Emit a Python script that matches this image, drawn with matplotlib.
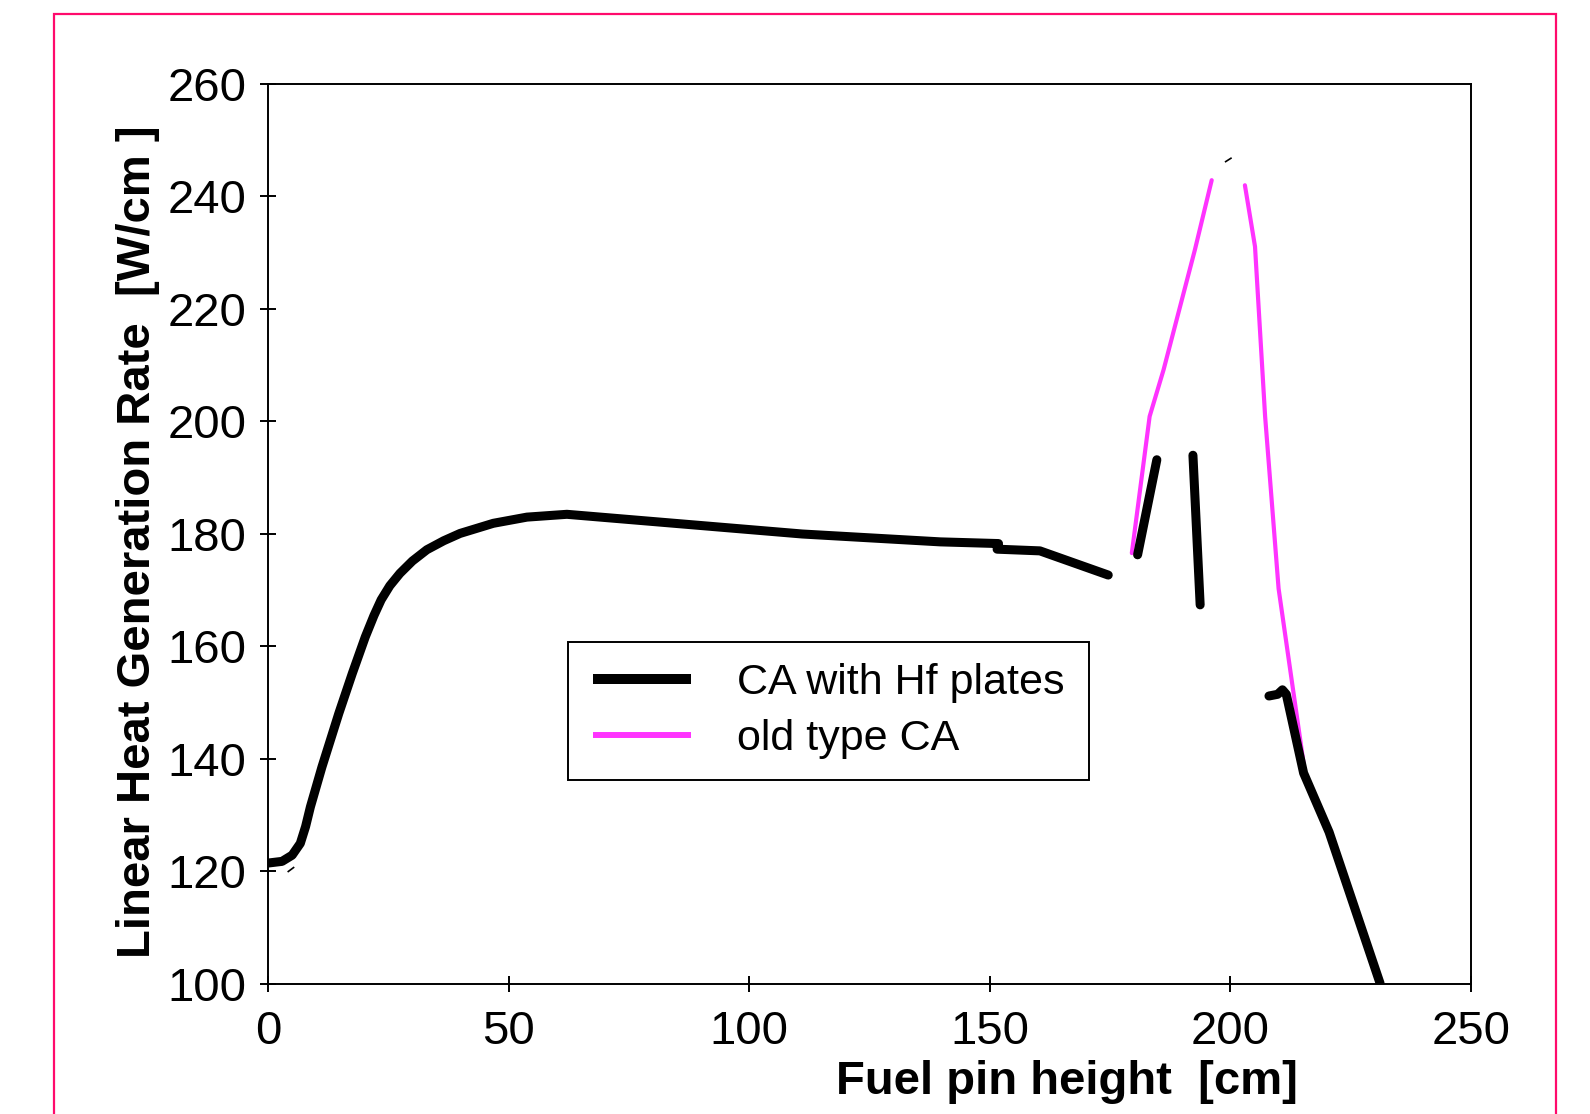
import numpy as np
import matplotlib
matplotlib.use("Agg")
from matplotlib import pyplot as plt
from matplotlib.lines import Line2D
from matplotlib.patches import Rectangle

plt.rcParams['font.family'] = ['Liberation Sans', 'DejaVu Sans']

# CA with Hf plates: several separate pieces of the curve
hf_x1 = [0.0, 2.9, 5.0, 6.7, 7.8, 8.8, 11.2, 14.7, 17.5, 20.2, 22.0, 23.5, 25.3, 27.4,
         30.0, 33.0, 36.5, 39.9, 46.8, 53.8, 62.1, 111.0, 139.7, 151.8, 151.5, 160.4, 174.6]
hf_y1 = [121.5, 121.8, 122.9, 125.0, 128.0, 131.5, 138.6, 148.1, 155.2, 161.7, 165.5,
         168.3, 170.8, 173.0, 175.2, 177.2, 178.8, 180.1, 181.9, 183.0, 183.5, 180.0,
         178.6, 178.3, 177.3, 177.0, 172.7]
hf_x2 = [180.7, 184.7]
hf_y2 = [176.3, 193.2]
hf_x3 = [192.2, 193.7]
hf_y3 = [194.0, 167.4]
hf_x4 = [208.0, 209.8, 210.8, 211.6, 215.2, 220.5, 231.1]
hf_y4 = [151.2, 151.5, 152.3, 151.5, 137.5, 127.0, 100.1]
# two stray small strokes in the original
dash_x1 = [199.0, 200.1]
dash_y1 = [246.2, 246.8]
dash_x2 = [4.2, 5.3]
dash_y2 = [120.0, 120.7]

# old type CA
old_x1 = [179.5, 183.2, 186.1, 192.6, 196.1]
old_y1 = [176.6, 200.9, 209.2, 230.5, 242.9]
old_x2 = [203.0, 205.1, 207.2, 210.0, 215.2]
old_y2 = [242.0, 231.1, 200.9, 170.3, 139.2]

x_ticks = [0, 50, 100, 150, 200, 250]
y_ticks = [100, 120, 140, 160, 180, 200, 220, 240, 260]

black = '#000000'
pink = '#FF33FF'

fig = plt.figure(figsize=(15.9, 11.14), dpi=100)
ax = fig.add_axes([0.1686, 0.1167, 0.7566, 0.8079])

for xs, ys in [(old_x1, old_y1), (old_x2, old_y2)]:
    ax.plot(xs, ys, color=pink, lw=3.0, solid_capstyle='round', zorder=2)
for xs, ys in [(hf_x1, hf_y1), (hf_x2, hf_y2), (hf_x3, hf_y3), (hf_x4, hf_y4)]:
    ax.plot(xs, ys, color=black, lw=6.5, solid_capstyle='round',
            solid_joinstyle='round', zorder=3)
for xs, ys in [(dash_x1, dash_y1), (dash_x2, dash_y2)]:
    ax.plot(xs, ys, color=black, lw=1.2, zorder=3)

ax.set_xlim(0, 250)
ax.set_ylim(100, 260)
ax.set_xticks(x_ticks)
ax.set_yticks(y_ticks)
ax.tick_params(axis='both', direction='inout', length=11, width=1.4, labelsize=34)
ax.tick_params(axis='x', pad=13)
ax.tick_params(axis='y', pad=10)
for sp in ax.spines.values():
    sp.set_linewidth(1.4)

ax.set_xlabel('Fuel pin height  [cm]', fontsize=34, fontweight='bold')
ax.xaxis.set_label_coords(0.664, -0.085)
ax.set_ylabel('Linear Heat Generation Rate  [W/cm ]', fontsize=34, fontweight='bold')
ax.yaxis.set_label_coords(-0.09, 0.491)

# legend without its own frame; the box is drawn separately
handles = [Line2D([], [], color=black, lw=7.2, solid_capstyle='butt'),
           Line2D([], [], color=pink, lw=4.3, solid_capstyle='butt')]
leg = ax.legend(handles, ['CA with Hf plates', 'old type CA'], loc='upper left',
                bbox_to_anchor=(0.2702, 0.357), borderaxespad=0, borderpad=0,
                fontsize=31, handlelength=2.28, handletextpad=1.07,
                labelspacing=0.38, frameon=False)
ax.add_patch(Rectangle((0.2494, 0.2267), 0.4331, 0.1533, transform=ax.transAxes,
                       fill=False, edgecolor='black', lw=1.4, zorder=5))

# pink frame around the whole figure
fig.patches.append(Rectangle((54 / 1590, -0.05), 1502 / 1590, 1 - 14 / 1114 + 0.05,
                             transform=fig.transFigure, fill=False,
                             edgecolor='#FF0A6C', lw=1.6, clip_on=False))

fig.savefig('out.png', dpi=100)
